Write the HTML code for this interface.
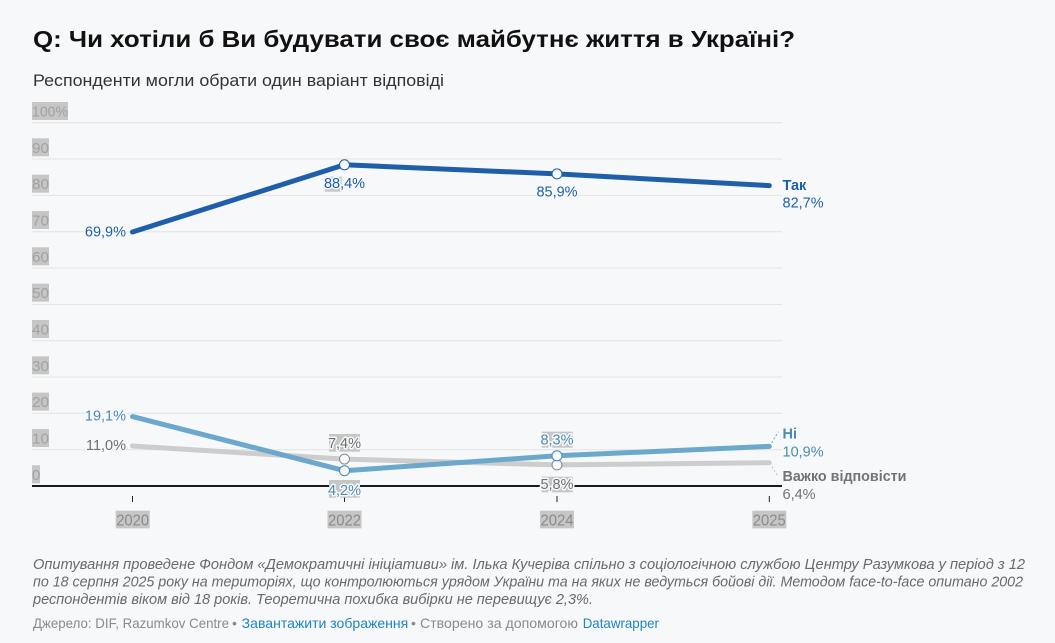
<!DOCTYPE html>
<html><head><meta charset="utf-8"><style>
html,body{margin:0;padding:0;background:#f7f8fa;}
svg{display:block;}
text{font-family:"Liberation Sans","DejaVu Sans",sans-serif;}
.tick{font-size:15px;fill:#a2a2a2;}
.yr{font-size:15.5px;fill:#8a8a8a;}
.box{fill:#c6c6c6;}
.halo{paint-order:stroke;stroke:#f7f8fa;stroke-width:3px;stroke-linejoin:round;}
</style></head><body>
<svg width="1055" height="643" viewBox="0 0 1055 643" xmlns="http://www.w3.org/2000/svg">
<rect width="1055" height="643" fill="#f7f8fa"/>
<!-- Title -->
<text x="33" y="47" font-size="23" font-weight="bold" fill="#111" textLength="762" lengthAdjust="spacingAndGlyphs">Q: Чи хотіли б Ви будувати своє майбутнє життя в Україні?</text>
<text x="33" y="86" font-size="17" fill="#333" textLength="411" lengthAdjust="spacingAndGlyphs">Респонденти могли обрати один варіант відповіді</text>

<!-- Gridlines -->
<g stroke="#e3e3e3" stroke-width="1">
<line x1="32" x2="782" y1="122.7" y2="122.7"/>
<line x1="32" x2="782" y1="159.0" y2="159.0"/>
<line x1="32" x2="782" y1="195.4" y2="195.4"/>
<line x1="32" x2="782" y1="231.7" y2="231.7"/>
<line x1="32" x2="782" y1="268.0" y2="268.0"/>
<line x1="32" x2="782" y1="304.4" y2="304.4"/>
<line x1="32" x2="782" y1="340.7" y2="340.7"/>
<line x1="32" x2="782" y1="377.0" y2="377.0"/>
<line x1="32" x2="782" y1="413.3" y2="413.3"/>
<line x1="32" x2="782" y1="449.7" y2="449.7"/>
</g>

<!-- Y tick labels -->
<g>
<rect class="box" x="32" y="102" width="36" height="18"/><text class="tick" x="32" y="116.5" textLength="36" lengthAdjust="spacingAndGlyphs">100%</text>
<rect class="box" x="32" y="138.3" width="17" height="18"/><text class="tick" x="32" y="152.8" textLength="17" lengthAdjust="spacingAndGlyphs">90</text>
<rect class="box" x="32" y="174.7" width="17" height="18"/><text class="tick" x="32" y="189.2" textLength="17" lengthAdjust="spacingAndGlyphs">80</text>
<rect class="box" x="32" y="211" width="17" height="18"/><text class="tick" x="32" y="225.5" textLength="17" lengthAdjust="spacingAndGlyphs">70</text>
<rect class="box" x="32" y="247.3" width="17" height="18"/><text class="tick" x="32" y="261.8" textLength="17" lengthAdjust="spacingAndGlyphs">60</text>
<rect class="box" x="32" y="283.7" width="17" height="18"/><text class="tick" x="32" y="298.2" textLength="17" lengthAdjust="spacingAndGlyphs">50</text>
<rect class="box" x="32" y="320" width="17" height="18"/><text class="tick" x="32" y="334.5" textLength="17" lengthAdjust="spacingAndGlyphs">40</text>
<rect class="box" x="32" y="356.3" width="17" height="18"/><text class="tick" x="32" y="370.8" textLength="17" lengthAdjust="spacingAndGlyphs">30</text>
<rect class="box" x="32" y="392.6" width="17" height="18"/><text class="tick" x="32" y="407.1" textLength="17" lengthAdjust="spacingAndGlyphs">20</text>
<rect class="box" x="32" y="429" width="17" height="18"/><text class="tick" x="32" y="443.5" textLength="17" lengthAdjust="spacingAndGlyphs">10</text>
<rect class="box" x="32" y="465.3" width="8" height="18"/><text class="tick" x="32" y="479.8">0</text>
</g>

<!-- Zero axis -->
<line x1="32" x2="782" y1="486" y2="486" stroke="#1a1a1a" stroke-width="2"/>

<!-- X ticks -->
<g stroke="#222" stroke-width="1">
<line x1="132.5" x2="132.5" y1="496" y2="502"/>
<line x1="344.5" x2="344.5" y1="496" y2="502"/>
<line x1="557" x2="557" y1="496" y2="502"/>
<line x1="769.3" x2="769.3" y1="496" y2="502"/>
</g>
<g text-anchor="middle">
<rect class="box" x="115.7" y="510.7" width="34" height="17.6"/><text x="132.7" y="525.5" class="yr" textLength="33" lengthAdjust="spacingAndGlyphs">2020</text>
<rect class="box" x="327.5" y="510.7" width="34" height="17.6"/><text x="344.5" y="525.5" class="yr" textLength="33" lengthAdjust="spacingAndGlyphs">2022</text>
<rect class="box" x="540" y="510.7" width="34" height="17.6"/><text x="557" y="525.5" class="yr" textLength="33" lengthAdjust="spacingAndGlyphs">2024</text>
<rect class="box" x="752.3" y="510.7" width="34" height="17.6"/><text x="769.3" y="525.5" class="yr" textLength="33" lengthAdjust="spacingAndGlyphs">2025</text>
</g>

<!-- Series lines -->
<polyline points="132.5,446.0 344.5,459.1 557,464.9 769.3,462.7" fill="none" stroke="#cdcdcd" stroke-width="5" stroke-linecap="round" stroke-linejoin="round"/>
<polyline points="132.5,416.6 344.5,470.7 557,455.8 769.3,446.4" fill="none" stroke="#6ba8cb" stroke-width="5" stroke-linecap="round" stroke-linejoin="round"/>
<polyline points="132.5,232.0 344.5,164.8 557,173.9 769.3,185.6" fill="none" stroke="#1f5ea8" stroke-width="5" stroke-linecap="round" stroke-linejoin="round"/>

<!-- Circles -->
<g stroke-width="1">
<circle cx="344.5" cy="164.8" r="5" stroke="#1f5ea8" fill="#f7f8fa"/>
<circle cx="557" cy="173.9" r="5" stroke="#1f5ea8" fill="#f7f8fa"/>
<circle cx="344.5" cy="459.1" r="5" stroke="#888" fill="#f7f8fa"/>
<circle cx="557" cy="464.9" r="5" stroke="#888" fill="#f7f8fa"/>
<circle cx="344.5" cy="470.7" r="5" stroke="#4b8ab0" fill="#f7f8fa"/>
<circle cx="557" cy="455.8" r="5" stroke="#4b8ab0" fill="#f7f8fa"/>
</g>

<!-- Value label boxes (artifacts) -->
<rect class="box" x="325" y="176.7" width="16.7" height="15"/>
<rect class="box" x="329" y="434" width="31" height="17.7"/>
<rect class="box" x="329" y="480" width="31" height="17.7"/>
<rect class="box" x="541.7" y="431.7" width="31" height="16"/>
<rect class="box" x="541.7" y="476.7" width="31" height="15.6"/>

<!-- Value labels -->
<g font-size="14.5">
<text class="halo" x="126" y="236.5" text-anchor="end" fill="#1f5ea8">69,9%</text>
<text class="halo" x="344.5" y="188" text-anchor="middle" fill="#1f5ea8">88,4%</text>
<text class="halo" x="557" y="196.5" text-anchor="middle" fill="#1f5ea8">85,9%</text>
<text class="halo" x="126" y="420.5" text-anchor="end" fill="#4b8ab0">19,1%</text>
<text class="halo" x="126" y="450" text-anchor="end" fill="#6f6f6f">11,0%</text>
<text class="halo" x="344.5" y="448" text-anchor="middle" fill="#6f6f6f">7,4%</text>
<text class="halo" x="344.5" y="495" text-anchor="middle" fill="#4b8ab0">4,2%</text>
<text class="halo" x="557" y="444.5" text-anchor="middle" fill="#4b8ab0">8,3%</text>
<text class="halo" x="557" y="489" text-anchor="middle" fill="#6f6f6f">5,8%</text>
</g>

<!-- Connectors -->
<line x1="771.7" y1="442.7" x2="778.3" y2="431.7" stroke="#6ba8cb" stroke-width="1" stroke-dasharray="2,2"/>
<line x1="771.7" y1="466.7" x2="778.3" y2="476.7" stroke="#bbb" stroke-width="1" stroke-dasharray="2,2"/>

<!-- End labels -->
<text x="782.5" y="190" font-size="14.5" font-weight="bold" fill="#1f5ea8">Так</text>
<text x="782.5" y="207.7" font-size="14.5" fill="#1f5ea8">82,7%</text>
<text x="782.5" y="438.5" font-size="14.5" font-weight="bold" fill="#4b8ab0">Ні</text>
<text x="782.5" y="456.5" font-size="14.5" fill="#4b8ab0">10,9%</text>
<text x="782.5" y="481" font-size="14.5" font-weight="bold" fill="#737373" textLength="124" lengthAdjust="spacingAndGlyphs">Важко відповісти</text>
<text x="782.5" y="499" font-size="14.5" fill="#737373">6,4%</text>

<!-- Footnote -->
<g font-size="15" font-style="italic" fill="#6a6a6a">
<text x="33" y="569" textLength="992" lengthAdjust="spacingAndGlyphs">Опитування проведене Фондом «Демократичні ініціативи» ім. Ілька Кучеріва спільно з соціологічною службою Центру Разумкова у період з 12</text>
<text x="33" y="586.5" textLength="990" lengthAdjust="spacingAndGlyphs">по 18 серпня 2025 року на територіях, що контролюються урядом України та на яких не ведуться бойові дії. Методом face-to-face опитано 2002</text>
<text x="33" y="604" textLength="560" lengthAdjust="spacingAndGlyphs">респондентів віком від 18 років. Теоретична похибка вибірки не перевищує 2,3%.</text>
</g>

<!-- Source line -->
<g font-size="14">
<text x="33" y="628" fill="#8a8a8a" textLength="196" lengthAdjust="spacingAndGlyphs">Джерело: DIF, Razumkov Centre</text>
<text x="232" y="628" fill="#8a8a8a">•</text>
<text x="241.7" y="628" fill="#1d84c6" textLength="166.6" lengthAdjust="spacingAndGlyphs">Завантажити зображення</text>
<text x="411" y="628" fill="#8a8a8a">•</text>
<text x="420" y="628" fill="#8a8a8a" textLength="158" lengthAdjust="spacingAndGlyphs">Створено за допомогою</text>
<text x="582.7" y="628" fill="#1d84c6" textLength="76.3" lengthAdjust="spacingAndGlyphs">Datawrapper</text>
</g>
</svg>
</body></html>
